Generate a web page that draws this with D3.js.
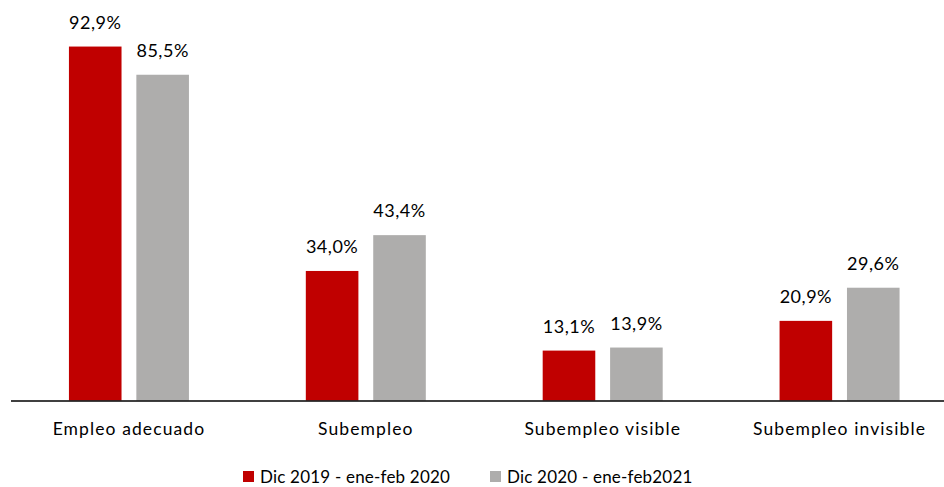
<!DOCTYPE html>
<html>
<head>
<meta charset="utf-8">
<script src="https://cdn.jsdelivr.net/npm/d3@7"></script>
<style>
  body { margin: 0; background: #fff; }
  text { font-family: Lato, "Open Sans", sans-serif; fill: #000; }
</style>
</head>
<body>
<div class="chart"></div>
<script>
var svgWidth = 944;
var svgHeight = 487;

// data
var categories = ["Empleo adecuado", "Subempleo", "Subempleo visible", "Subempleo invisible"];
var seriesNames = ["Dic 2019 - ene-feb 2020", "Dic 2020 - ene-feb2021"];
var values2019 = [92.9, 34.0, 13.1, 20.9];
var values2020 = [85.5, 43.4, 13.9, 29.6];
var colors = ["#c00000", "#aeadac"];

var baseline = 400.5;

var svg = d3.select(".chart")
  .append("svg")
  .attr("width", svgWidth)
  .attr("height", svgHeight);

var x0 = d3.scaleBand()
  .domain(categories)
  .range([10.5, 958])
  .paddingInner(0)
  .paddingOuter(0);

var x1 = d3.scaleBand()
  .domain([0, 1])
  .range([x0.bandwidth() / 2 - 60, x0.bandwidth() / 2 + 60])
  .paddingInner(0.22);

var y = d3.scaleLinear()
  .domain([0, 100])
  .range([baseline, baseline - 381]);

var rows = categories.map(function(c, i) {
  return { cat: c, vals: [values2019[i], values2020[i]] };
});

var groups = svg.selectAll(".grp")
  .data(rows)
  .enter()
  .append("g")
  .attr("transform", d => `translate(${x0(d.cat)},0)`);

groups.selectAll("rect")
  .data(d => d.vals)
  .enter()
  .append("rect")
  .attr("x", (d, i) => x1(i))
  .attr("width", x1.bandwidth())
  .attr("y", d => y(d))
  .attr("height", d => baseline - y(d))
  .attr("fill", (d, i) => colors[i]);

groups.selectAll(".val")
  .data(d => d.vals)
  .enter()
  .append("text")
  .attr("class", "val")
  .attr("x", (d, i) => x1(i) + x1.bandwidth() / 2)
  .attr("y", d => y(d) - 18)
  .attr("text-anchor", "middle")
  .attr("font-size", "18px")
  .style("letter-spacing", "0.5px")
  .text(d => d.toFixed(1).replace(".", ",") + "%");

// axis
var xAxis = d3.axisBottom(x0).tickSize(0).tickPadding(22);
var axisG = svg.append("g")
  .attr("transform", `translate(0,${baseline})`)
  .call(xAxis);
axisG.select(".domain").attr("stroke", "#000").attr("stroke-width", 1.3);
axisG.selectAll("text")
  .attr("font-size", "17.5px")
  .attr("font-family", "Lato, sans-serif")
  .attr("fill", "#000")
  .style("letter-spacing", "1.1px");

// legend
var legendX = [243, 490];
var legend = svg.selectAll(".leg")
  .data(seriesNames)
  .enter()
  .append("g")
  .attr("transform", (d, i) => `translate(${legendX[i]},471)`);

legend.append("rect")
  .attr("width", 11)
  .attr("height", 11)
  .attr("fill", (d, i) => colors[i]);

legend.append("text")
  .attr("x", 17)
  .attr("y", 11.5)
  .attr("font-size", "17px")
  .style("letter-spacing", "0.2px")
  .text(d => d);
</script>
</body>
</html>
